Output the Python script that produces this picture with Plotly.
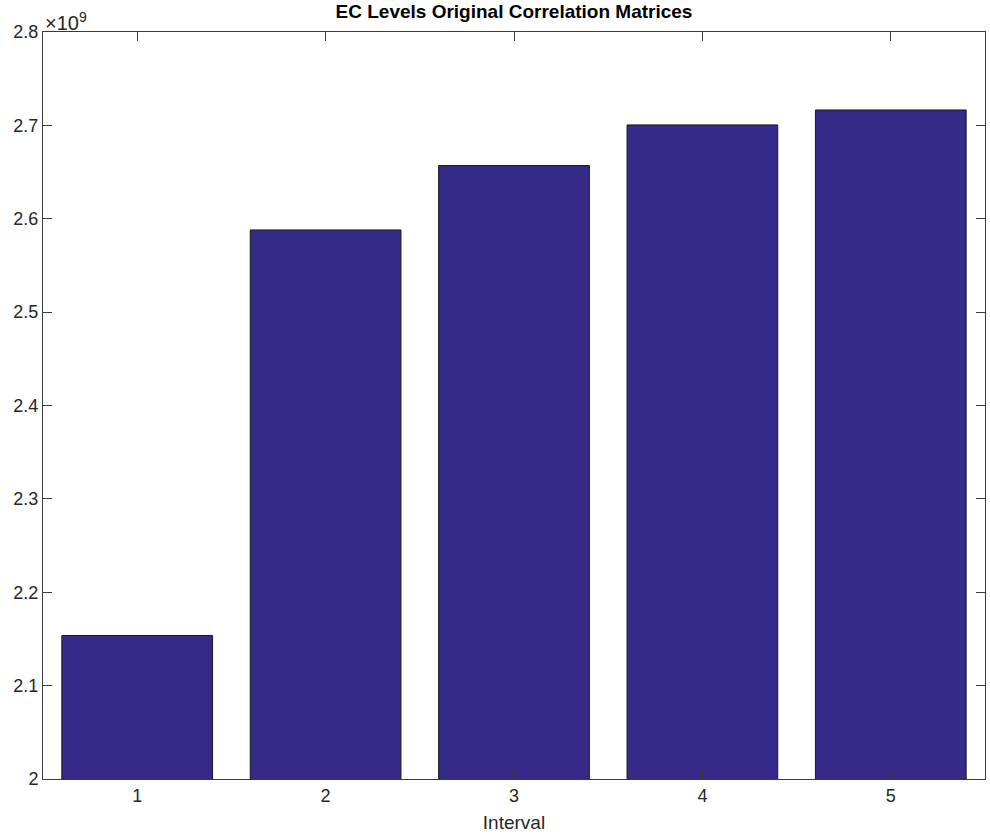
import plotly.graph_objects as go

# EC level per interval
intervals = [1, 2, 3, 4, 5]
ec_levels = [2.1537e9, 2.588e9, 2.657e9, 2.7005e9, 2.7165e9]
y_ticks = [2.0e9, 2.1e9, 2.2e9, 2.3e9, 2.4e9, 2.5e9, 2.6e9, 2.7e9, 2.8e9]
y_tick_labels = ["2", "2.1", "2.2", "2.3", "2.4", "2.5", "2.6", "2.7", "2.8"]

FONT = "Liberation Sans, Arial, Helvetica, sans-serif"
AXIS_COLOR = "#3a3a3a"
TEXT_COLOR = "#262626"

fig = go.Figure(
    go.Bar(
        x=intervals,
        y=ec_levels,
        width=0.8,
        marker=dict(color="#352a87", line=dict(color="#1a1a1a", width=1)),
    )
)

axis_common = dict(
    showline=True,
    linecolor=AXIS_COLOR,
    linewidth=1,
    mirror="ticks",
    ticks="inside",
    ticklen=9,
    tickwidth=1,
    tickcolor=AXIS_COLOR,
    showgrid=False,
    zeroline=False,
    tickfont=dict(family=FONT, size=18, color=TEXT_COLOR),
)

fig.update_xaxes(
    range=[0.5, 5.5],
    tickvals=intervals,
    ticktext=[str(i) for i in intervals],
    title=dict(text="Interval", font=dict(family=FONT, size=19, color=TEXT_COLOR), standoff=11),
    **axis_common,
)
fig.update_yaxes(
    range=[2.0e9, 2.8e9],
    tickvals=y_ticks,
    ticktext=y_tick_labels,
    **axis_common,
)

fig.update_layout(
    width=990,
    height=837,
    margin=dict(l=43, r=5, t=32, b=58),
    plot_bgcolor="white",
    paper_bgcolor="white",
    showlegend=False,
    title=dict(
        text="<b>EC Levels Original Correlation Matrices</b>",
        font=dict(family=FONT, size=19, color="#000000"),
        x=0.5,
        xref="paper",
        y=1,
        yref="container",
        yanchor="top",
        pad=dict(t=5),
    ),
    annotations=[
        dict(
            text="×10<sup>9</sup>",
            xref="paper",
            yref="paper",
            x=0,
            y=1,
            xanchor="left",
            yanchor="bottom",
            showarrow=False,
            font=dict(family=FONT, size=20, color=TEXT_COLOR),
            yshift=-4,
        )
    ],
)

fig.write_html("out.html")
